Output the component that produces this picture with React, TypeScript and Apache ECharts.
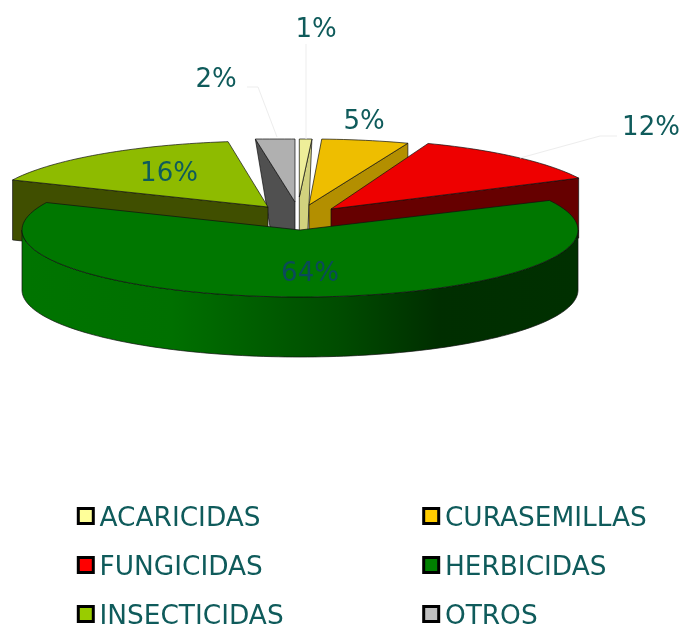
import React, { useEffect, useRef } from "react";
import * as echarts from "echarts";

const categories = ["ACARICIDAS", "CURASEMILLAS", "FUNGICIDAS", "HERBICIDAS", "INSECTICIDAS", "OTROS"];
const percentages = [1, 5, 12, 64, 16, 2];

const legendColors = ["#FFFF99", "#FFCC00", "#FF0000", "#008000", "#99CC00", "#C0C0C0"];
const topColors = ["#EEEE99", "#EEBE00", "#EE0000", "#007700", "#8EBB00", "#B0B0B0"];
const sideColors = ["#D2D27E", "#B38F00", "#660000", "#003000", "#404F00", "#505050"];

// Painter's order: back slices first.
const drawOrder = [5, 0, 1, 2, 4, 3];

const TEXT = "#0F5B5B";
const FONT = "DejaVu Sans";
const LABEL_SIZE = 26;
const THICK = 60;
const CLIP_TOP = 139;

type Geo = {
  cx: number; cy: number; a: number; b: number;
  drop: [number, number];
  cut: "start" | "end" | "none";
  label: [number, number];
  labelColor?: string;
  leader?: number[][];
};

const geometry: Geo[] = [
  { cx: 299.3, cy: 197, a: 278, b: 58, drop: [-4, 90], cut: "end", label: [316, 28], leader: [[306, 44], [306, 139]] },
  { cx: 309, cy: 205, a: 281, b: 66, drop: [0, THICK], cut: "end", label: [364, 120] },
  { cx: 331, cy: 209, a: 276, b: 70, drop: [0, THICK], cut: "end", label: [651, 126], leader: [[617, 136], [600, 136], [520, 158]] },
  { cx: 300, cy: 230, a: 278, b: 67, drop: [0, THICK], cut: "none", label: [310, 272], labelColor: "#0B4A5A" },
  { cx: 268, cy: 207, a: 280, b: 66, drop: [0, THICK], cut: "start", label: [169, 172] },
  { cx: 295, cy: 202, a: 278, b: 64, drop: [15, 90], cut: "start", label: [216, 78], leader: [[247, 87], [258, 87], [277, 137]] },
];

const total = percentages.reduce((s, v) => s + v, 0);

// The view is turned about one degree, except at the 12 o'clock boundary.
const turn = (deg: number) => (deg % 360 === 0 ? deg : deg - 1);

function sliceAngles(i: number): [number, number] {
  const before = percentages.slice(0, i).reduce((s, v) => s + v, 0);
  return [turn((before / total) * 360), turn(((before + percentages[i]) / total) * 360)];
}

function rimPoint(g: Geo, deg: number, dy = 0): number[] {
  const r = (deg * Math.PI) / 180;
  return [g.cx + g.a * Math.sin(r), Math.max(CLIP_TOP, g.cy - g.b * Math.cos(r)) + dy];
}

function arc(g: Geo, from: number, to: number, dy = 0): number[][] {
  const pts: number[][] = [];
  for (let d = from; d < to; d += 1.5) pts.push(rimPoint(g, d, dy));
  pts.push(rimPoint(g, to, dy));
  return pts;
}

const EDGE = { stroke: "#101010", lineWidth: 0.7 };

function renderSlice(i: number) {
  return (_params: any, api: any) => {
    const g = geometry[i];
    const value = api.value(0);
    const [start, end] = sliceAngles(i);
    const children: any[] = [];

    if (g.cut !== "none") {
      const rim = rimPoint(g, g.cut === "end" ? end : start);
      children.push({
        type: "polygon",
        shape: {
          points: [rim, [g.cx, g.cy], [g.cx, g.cy + THICK], [rim[0] + g.drop[0], rim[1] + g.drop[1]]],
        },
        style: { fill: sideColors[i], ...EDGE },
      });
    }

    const wallFrom = Math.max(start, 90);
    const wallTo = Math.min(end, 270);
    if (wallFrom < wallTo) {
      const upper = arc(g, wallFrom, wallTo);
      const lower = arc(g, wallFrom, wallTo, THICK).reverse();
      children.push({
        type: "polygon",
        shape: { points: [...upper, ...lower] },
        style: {
          fill: new echarts.graphic.LinearGradient(0, 0, 1, 0, [
            { offset: 0, color: "#007400" },
            { offset: 0.27, color: "#007000" },
            { offset: 0.57, color: "#004C00" },
            { offset: 0.75, color: "#002E00" },
            { offset: 1, color: "#003000" },
          ]),
          ...EDGE,
        },
      });
    }

    children.push({
      type: "polygon",
      shape: { points: [[g.cx, g.cy], ...arc(g, start, end)] },
      style: { fill: topColors[i], ...EDGE },
    });

    if (g.leader) {
      children.push({
        type: "polyline",
        shape: { points: g.leader },
        style: { stroke: "#EDEDED", lineWidth: 1, fill: "none" },
      });
    }

    children.push({
      type: "text",
      x: g.label[0],
      y: g.label[1],
      style: {
        text: `${value}%`,
        fill: g.labelColor ?? TEXT,
        font: `${LABEL_SIZE}px "${FONT}"`,
        align: "center",
        verticalAlign: "middle",
      },
    });

    return { type: "group", children };
  };
}

const legendBase = {
  orient: "vertical" as const,
  top: 503,
  height: 135,
  padding: 0,
  itemWidth: 15,
  itemHeight: 15,
  itemGap: 23,
  icon: "rect",
  selectedMode: false,
  itemStyle: { borderColor: "#000", borderWidth: 3 },
  textStyle: { color: TEXT, fontFamily: FONT, fontSize: 26.4, padding: [0, 0, 0, 1.2] },
};

export default function App() {
  const ref = useRef<HTMLDivElement>(null);
  useEffect(() => {
    const chart = echarts.init(ref.current!, undefined, { renderer: "svg" });
    chart.setOption({
      animation: false,
      backgroundColor: "#fff",
      legend: [
        { ...legendBase, left: 76.8, data: [categories[0], categories[2], categories[4]] },
        { ...legendBase, left: 422.2, data: [categories[1], categories[3], categories[5]] },
      ],
      series: drawOrder.map((i) => ({
        type: "custom",
        name: categories[i],
        coordinateSystem: "none",
        itemStyle: { color: legendColors[i] },
        data: [percentages[i]],
        renderItem: renderSlice(i),
      })),
    });
    return () => chart.dispose();
  }, []);
  return (
    <div
      ref={ref}
      style={{ position: "absolute", left: 0, top: 0, width: 682, height: 626, filter: "blur(0.5px)" }}
    />
  );
}
